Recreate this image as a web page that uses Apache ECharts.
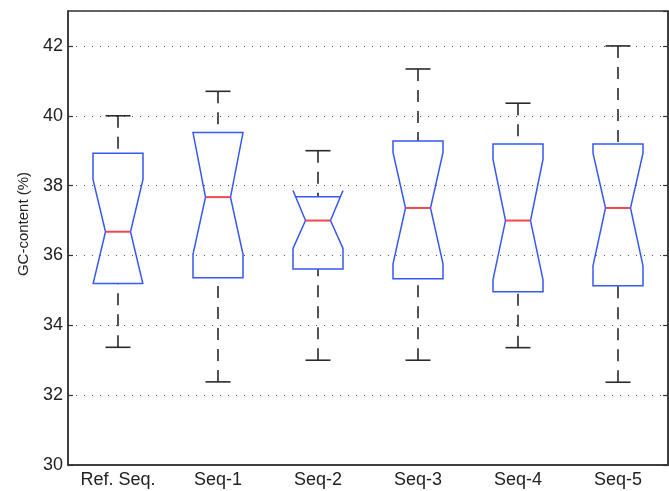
<!DOCTYPE html>
<html>
<head>
<meta charset="utf-8">
<script src="https://cdn.jsdelivr.net/npm/echarts@6/dist/echarts.min.js"></script>
<style>html,body{margin:0;padding:0;background:#fff}#c{width:669px;height:491px}</style>
</head>
<body>
<div id="c"></div>
<script>
var categories = ['Ref. Seq.', 'Seq-1', 'Seq-2', 'Seq-3', 'Seq-4', 'Seq-5'];
var whiskerLow  = [33.37, 32.38, 33.00, 33.00, 33.36, 32.37];
var q1          = [35.20, 35.36, 35.61, 35.33, 34.96, 35.13];
var notchLow    = [35.18, 36.03, 36.20, 35.76, 35.30, 35.70];
var median      = [36.68, 37.67, 37.00, 37.36, 37.00, 37.36];
var notchHigh   = [38.18, 39.52, 37.86, 38.95, 38.75, 38.93];
var q3          = [38.93, 39.52, 37.68, 39.28, 39.19, 39.19];
var whiskerHigh = [40.00, 40.70, 39.00, 41.34, 40.36, 42.00];
var yTicks = [30, 32, 34, 36, 38, 40, 42];

var FONT = "'Liberation Sans', Arial, sans-serif";
var boxColor = '#3558ee';
var medColor = '#f0464e';
var whColor = '#2a2a2a';

var seriesData = categories.map(function (c, i) {
  return [i, whiskerLow[i], q1[i], notchLow[i], median[i], notchHigh[i], q3[i], whiskerHigh[i]];
});

function renderItem(params, api) {
  var idx = api.value(0);
  var wl = api.value(1), b1 = api.value(2), nl = api.value(3), md = api.value(4),
      nh = api.value(5), b3 = api.value(6), wh = api.value(7);
  var cx = api.coord([idx, md])[0];
  var band = api.size([1, 0])[0];
  var hw = band * 0.25, iw = band * 0.125, cw = band * 0.125;
  function Y(v) { return api.coord([idx, v])[1]; }
  function wAt(v, n) {
    var d = Math.abs(n - md);
    if (d === 0) return hw;
    return iw + (hw - iw) * Math.abs(v - md) / d;
  }
  // left side from bottom to top
  var left = [];
  if (nl >= b1) {
    left.push([hw, b1]); left.push([hw, nl]);
  } else {
    left.push([wAt(b1, nl), b1]); left.push([hw, nl]);
  }
  left.push([iw, md]);
  if (nh <= b3) {
    left.push([hw, nh]); left.push([hw, b3]);
  } else {
    left.push([hw, nh]); left.push([wAt(b3, nh), b3]);
  }
  var pts = [];
  left.forEach(function (p) { pts.push([cx - p[0], Y(p[1])]); });
  for (var k = left.length - 1; k >= 0; k--) {
    pts.push([cx + left[k][0], Y(left[k][1])]);
  }
  var dash = [12, 9];
  return {
    type: 'group',
    children: [
      { type: 'line', shape: { x1: cx, y1: Y(wh), x2: cx, y2: Y(b3) },
        style: { stroke: whColor, lineWidth: 1.6, lineDash: dash } },
      { type: 'line', shape: { x1: cx, y1: Y(wl), x2: cx, y2: Y(b1) },
        style: { stroke: whColor, lineWidth: 1.6, lineDash: dash } },
      { type: 'line', shape: { x1: cx - cw, y1: Y(wh), x2: cx + cw, y2: Y(wh) },
        style: { stroke: whColor, lineWidth: 1.6 } },
      { type: 'line', shape: { x1: cx - cw, y1: Y(wl), x2: cx + cw, y2: Y(wl) },
        style: { stroke: whColor, lineWidth: 1.6 } },
      { type: 'polygon', shape: { points: pts },
        style: { fill: 'none', stroke: boxColor, lineWidth: 1.5 } },
      { type: 'line', shape: { x1: cx - iw, y1: Y(md), x2: cx + iw, y2: Y(md) },
        style: { stroke: medColor, lineWidth: 2 } }
    ]
  };
}

var chart = echarts.init(document.getElementById('c'), null, { renderer: 'canvas' });
chart.setOption({
  animation: false,
  backgroundColor: '#fff',
  grid: { left: 68, right: 1, top: 11, bottom: 26, show: true, borderColor: '#333', borderWidth: 1.5, backgroundColor: 'transparent' },
  xAxis: {
    type: 'category',
    data: categories,
    boundaryGap: true,
    axisLine: { show: true, lineStyle: { color: '#333', width: 1.5 } },
    axisTick: { show: false },
    axisLabel: { fontSize: 18, color: '#222', fontFamily: FONT, margin: 6, interval: 0 },
    splitLine: { show: false }
  },
  yAxis: [{
    type: 'value',
    min: 30, max: 43, interval: 2,
    axisLine: { show: true, lineStyle: { color: '#333', width: 1.5 } },
    axisTick: { show: true, inside: true, length: 5, lineStyle: { color: '#333', width: 1.2 } },
    axisLabel: { fontSize: 18, color: '#222', fontFamily: FONT, margin: 5, showMaxLabel: false,
      formatter: function (v) { return yTicks.indexOf(v) >= 0 ? String(v) : ''; } },
    splitLine: { show: true, lineStyle: { color: '#555', width: 1.2, type: [1, 7] } }
  }, {
    type: 'value', position: 'right',
    min: 30, max: 43, interval: 2,
    axisLine: { show: true, lineStyle: { color: '#333', width: 1.5 } },
    axisTick: { show: true, inside: true, length: 5, lineStyle: { color: '#333', width: 1.2 } },
    axisLabel: { show: false },
    splitLine: { show: false }
  }],
  graphic: [{
    type: 'text',
    x: 24, y: 224,
    rotation: Math.PI / 2,
    style: { text: 'GC-content (%)', fontSize: 15, fontFamily: FONT, fill: '#222', textAlign: 'center', textVerticalAlign: 'middle' }
  }],
  series: [{
    type: 'custom',
    renderItem: renderItem,
    data: seriesData,
    encode: { x: 0, y: [1, 7] },
    clip: false
  }]
});
</script>
</body>
</html>
